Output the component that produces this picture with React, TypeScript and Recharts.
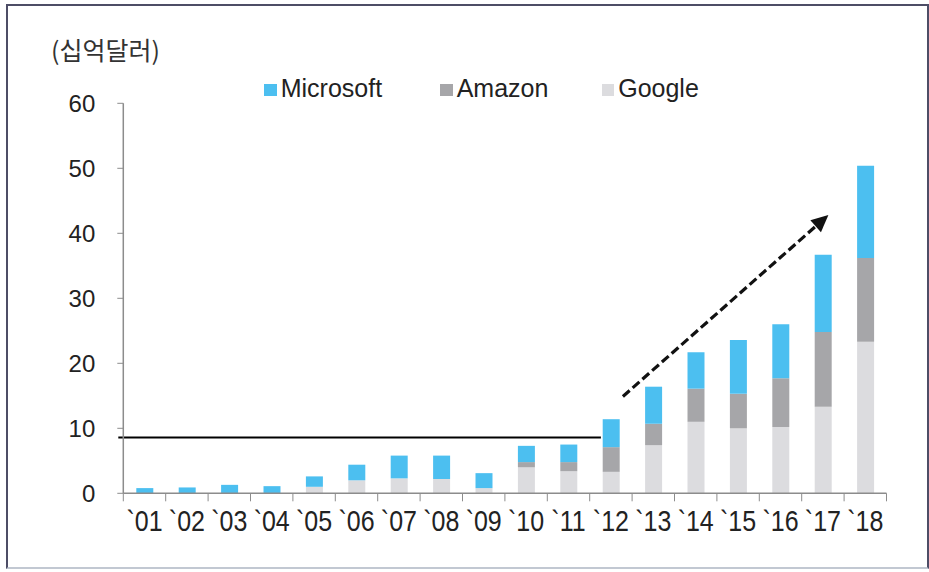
import React from "react";
import { Bar, BarChart, ReferenceLine, XAxis, YAxis } from "recharts";

const years = ["`01", "`02", "`03", "`04", "`05", "`06", "`07", "`08", "`09", "`10", "`11", "`12", "`13", "`14", "`15", "`16", "`17", "`18"];
const google = [0, 0, 0, 0, 1.0, 2.0, 2.3, 2.2, 0.8, 4.0, 3.4, 3.3, 7.4, 11.0, 10.0, 10.2, 13.3, 23.3];
const amazon = [0, 0, 0, 0, 0, 0, 0, 0, 0, 0.8, 1.4, 3.8, 3.3, 5.1, 5.3, 7.5, 11.5, 12.9];
const microsoft = [0.8, 0.9, 1.3, 1.1, 1.6, 2.4, 3.5, 3.6, 2.3, 2.5, 2.7, 4.3, 5.7, 5.6, 8.3, 8.3, 11.9, 14.2];
const yTicks = [0, 10, 20, 30, 40, 50, 60];
const baseline = 8.6;
const trendFrom = { year: "`12", value: 14.9 };
const trendTo = { year: "`17", value: 42.8 };

const data = years.map((year, i) => ({
  year,
  google: google[i],
  amazon: amazon[i],
  microsoft: microsoft[i],
}));

const W = 929;
const H = 572;
const PLOT_LEFT = 123.3;
const PLOT_RIGHT = 886.5;
const PLOT_TOP = 103.3;
const PLOT_BOTTOM = 493.3;
const BAND = (PLOT_RIGHT - PLOT_LEFT) / years.length;
const BAR = 17;

const AXIS = "#8c8c8c";
const TEXT = "#222";
const FONT = "'Liberation Sans', Arial, sans-serif";
const COLORS = { microsoft: "#4cbff0", amazon: "#a6a6a9", google: "#dcdcdf" };

function YearTick(props: any) {
  const { x, payload, index } = props;
  const left = x - BAND / 2;
  const right = x + BAND / 2;
  const base = PLOT_BOTTOM + 38;
  return (
    <g>
      <line x1={left} y1={PLOT_BOTTOM} x2={left} y2={PLOT_BOTTOM + 8} stroke={AXIS} />
      {index === years.length - 1 && (
        <line x1={right} y1={PLOT_BOTTOM} x2={right} y2={PLOT_BOTTOM + 8} stroke={AXIS} />
      )}
      <text
        transform={`translate(${x} ${base}) scale(1 1.15)`}
        textAnchor="middle"
        fontSize={25}
        fontFamily={FONT}
        fill={TEXT}
      >
        {payload.value}
      </text>
    </g>
  );
}

function FlatLine(p: any) {
  // runs from just left of the axis to the '12 bar
  const x1 = p.x1 - 5;
  const x2 = PLOT_LEFT + 11.5 * BAND - BAR / 2 - 1.5;
  return <line x1={x1} y1={p.y1} x2={x2} y2={p.y2} stroke="#000" strokeWidth={2} />;
}

function TrendArrow(p: any) {
  const sx = p.x1 + 12;
  const sy = p.y1;
  const tx = p.x2 + 5.5;
  const ty = p.y2;
  const dx = tx - sx;
  const dy = ty - sy;
  const len = Math.sqrt(dx * dx + dy * dy);
  const ux = dx / len;
  const uy = dy / len;
  const head = 17;
  const half = 8;
  const bx = tx - ux * head;
  const by = ty - uy * head;
  const pts = `${tx},${ty} ${bx - uy * half},${by + ux * half} ${bx + uy * half},${by - ux * half}`;
  return (
    <g>
      <line x1={sx} y1={sy} x2={bx + ux * 2} y2={by + uy * 2} stroke="#111" strokeWidth={3.2} strokeDasharray="9 4" />
      <polygon points={pts} fill="#111" />
    </g>
  );
}

const legendItems = [
  { name: "Microsoft", color: COLORS.microsoft, left: 264 },
  { name: "Amazon", color: COLORS.amazon, left: 440 },
  { name: "Google", color: COLORS.google, left: 601.5 },
];

export default function App() {
  return (
    <div style={{ position: "fixed", left: 0, top: 0, width: W, height: H, background: "#fff", overflow: "hidden" }}>
      <div
        style={{
          position: "absolute",
          left: 51,
          top: 33,
          fontFamily: "'Noto Sans CJK KR', sans-serif",
          fontSize: 25,
          lineHeight: "32px",
          color: "#333",
          whiteSpace: "nowrap",
        }}
      >
        (십억달러)
      </div>
      {legendItems.map((item) => (
        <div
          key={item.name}
          style={{ position: "absolute", left: item.left, top: 74, height: 28, display: "flex", alignItems: "center" }}
        >
          <span style={{ width: 12.7, height: 12.7, background: item.color, marginTop: 4, marginRight: 4 }} />
          <span style={{ fontFamily: FONT, fontSize: 25, lineHeight: "28px", color: TEXT }}>{item.name}</span>
        </div>
      ))}
      <div style={{ position: "absolute", left: 0, top: 0 }}>
        <BarChart
          width={W}
          height={H}
          data={data}
          margin={{ top: PLOT_TOP, right: W - PLOT_RIGHT, left: 0, bottom: 0 }}
          barSize={BAR}
        >
          <XAxis
            dataKey="year"
            height={H - PLOT_BOTTOM}
            interval={0}
            tickLine={false}
            axisLine={{ stroke: AXIS, strokeWidth: 1.5 }}
            tick={<YearTick />}
          />
          <YAxis
            width={PLOT_LEFT}
            domain={[0, 60]}
            ticks={yTicks}
            interval={0}
            tickSize={6}
            tickMargin={22}
            axisLine={{ stroke: AXIS, strokeWidth: 1.5 }}
            tickLine={{ stroke: AXIS }}
            tick={{ fill: TEXT, fontSize: 24, fontFamily: FONT }}
          />
          <Bar dataKey="google" stackId="s" fill={COLORS.google} isAnimationActive={false} />
          <Bar dataKey="amazon" stackId="s" fill={COLORS.amazon} isAnimationActive={false} />
          <Bar dataKey="microsoft" stackId="s" fill={COLORS.microsoft} isAnimationActive={false} />
          <ReferenceLine y={baseline} shape={FlatLine} />
          <ReferenceLine
            segment={[
              { x: trendFrom.year, y: trendFrom.value },
              { x: trendTo.year, y: trendTo.value },
            ]}
            shape={TrendArrow}
          />
        </BarChart>
      </div>
      <div
        style={{
          position: "absolute",
          left: 6,
          top: 4,
          width: 919,
          height: 561,
          borderTop: "2px solid #4d4d66",
          borderLeft: "2px solid #4d4d66",
          borderRight: "2px solid #4d4d66",
          borderBottom: "2px solid #c2c8d2",
          pointerEvents: "none",
          zIndex: 2,
        }}
      />
    </div>
  );
}
